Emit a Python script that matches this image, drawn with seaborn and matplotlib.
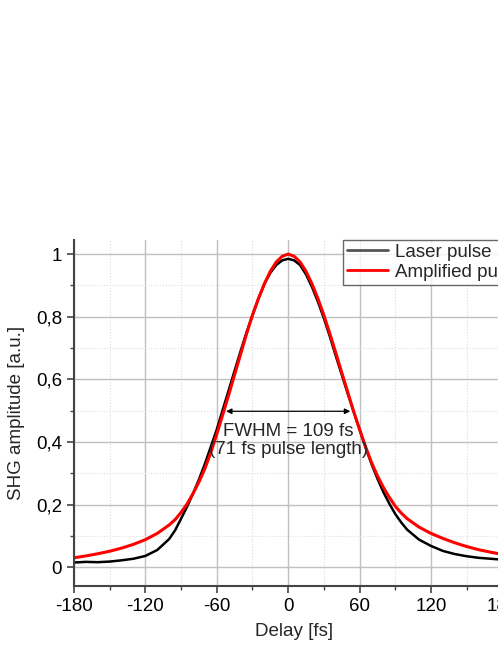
import seaborn as sns
import matplotlib
matplotlib.use("Agg")
import matplotlib.pyplot as plt
from matplotlib.lines import Line2D
from matplotlib.ticker import MultipleLocator, FuncFormatter
import pandas as pd

# delay axis (fs)
delay = [-180, -170, -160, -150, -140, -130, -120, -110,
         -100, -95, -90, -85, -80, -75, -70, -65, -60, -55, -50, -45, -40,
         -35, -30, -25, -20, -15, -10, -5, 0, 5, 10, 15, 20, 25, 30, 35, 40,
         45, 50, 55, 60, 65, 70, 75, 80, 85, 90, 95, 100,
         110, 120, 130, 140, 150, 160, 170, 180, 190]

laser = [0.015, 0.017, 0.016, 0.018, 0.022, 0.027, 0.036, 0.055,
         0.090, 0.118, 0.155, 0.193, 0.235, 0.280, 0.330, 0.385, 0.440, 0.503,
         0.565, 0.628, 0.690, 0.750, 0.805, 0.857, 0.905, 0.940, 0.965, 0.980,
         0.985, 0.980, 0.965, 0.935, 0.895, 0.848, 0.795, 0.737, 0.675, 0.615,
         0.555, 0.497, 0.440, 0.383, 0.330, 0.283, 0.240, 0.203, 0.170, 0.143,
         0.120,
         0.088, 0.068, 0.052, 0.042, 0.035, 0.030, 0.027, 0.024, 0.022]

amplified = [0.030, 0.036, 0.043, 0.051, 0.061, 0.073, 0.088, 0.108,
             0.135, 0.152, 0.175, 0.202, 0.235, 0.272, 0.315, 0.366, 0.425, 0.487,
             0.550, 0.615, 0.680, 0.745, 0.805, 0.858, 0.905, 0.945, 0.975, 0.993,
             1.000, 0.993, 0.975, 0.945, 0.905, 0.858, 0.805, 0.746, 0.685, 0.622,
             0.560, 0.498, 0.440, 0.385, 0.335, 0.292, 0.255, 0.223, 0.195, 0.173,
             0.155,
             0.128, 0.108, 0.092, 0.078, 0.066, 0.056, 0.048, 0.041, 0.036]

df = pd.DataFrame({"delay": delay, "laser": laser, "amplified": amplified})

sns.set_theme(style="ticks")
plt.rcParams['font.family'] = ['Liberation Sans', 'DejaVu Sans']
plt.rcParams['axes.unicode_minus'] = False

fig = plt.figure(figsize=(4.98, 6.45), dpi=100)
ax = fig.add_axes([0.1486, 0.0915, 0.884, 0.5364])

sns.lineplot(data=df, x="delay", y="laser", ax=ax, color="black", linewidth=1.8)
sns.lineplot(data=df, x="delay", y="amplified", ax=ax, color="#ff0000", linewidth=2.2)

ax.set_xlim(-180, 190)
ax.set_ylim(-0.06, 1.045)
ax.xaxis.set_major_locator(MultipleLocator(60))
ax.xaxis.set_minor_locator(MultipleLocator(30))
ax.yaxis.set_major_locator(MultipleLocator(0.2))
ax.yaxis.set_minor_locator(MultipleLocator(0.1))
ax.yaxis.set_major_formatter(FuncFormatter(lambda v, p: ("%g" % round(v, 2)).replace(".", ",")))

ax.grid(which="major", color="#c0c0c0", linewidth=1.0)
ax.grid(which="minor", color="#dddddd", linewidth=0.8, linestyle=":")
ax.set_axisbelow(True)

for s in ["top", "right"]:
    ax.spines[s].set_visible(False)
for s in ["left", "bottom"]:
    ax.spines[s].set_color("#444444")
    ax.spines[s].set_linewidth(1.5)

ax.tick_params(which="major", direction="out", length=5, width=1.2, color="#444444",
               labelsize=13.5, labelcolor="black")
ax.tick_params(which="minor", direction="out", length=3, width=1.0, color="#444444")

ax.set_xlabel("Delay [fs]", fontsize=13.5, labelpad=6)
ax.set_ylabel("SHG amplitude [a.u.]", fontsize=13.5, labelpad=8)

# FWHM marker
ax.annotate("", xy=(-54.5, 0.498), xytext=(54.5, 0.498),
            arrowprops=dict(arrowstyle="<|-|>", color="black", lw=0.9,
                            mutation_scale=8))
ax.text(0, 0.405, "FWHM = 109 fs\n(71 fs pulse length)", ha="center", va="center",
        fontsize=13.5, linespacing=1.1)

handles = [Line2D([], [], color="#555555", lw=2),
           Line2D([], [], color="#ff0000", lw=2)]
leg = ax.legend(handles, ["Laser pulse", "Amplified pulse"], loc="upper left",
                bbox_to_anchor=(0.611, 1.0), borderaxespad=0, fontsize=13.5,
                frameon=True, fancybox=False, handlelength=2.2, handletextpad=0.4,
                borderpad=0.2, labelspacing=0.15)
leg.get_frame().set_edgecolor("#444444")
leg.get_frame().set_linewidth(1.0)

fig.savefig("out.png", dpi=100)
